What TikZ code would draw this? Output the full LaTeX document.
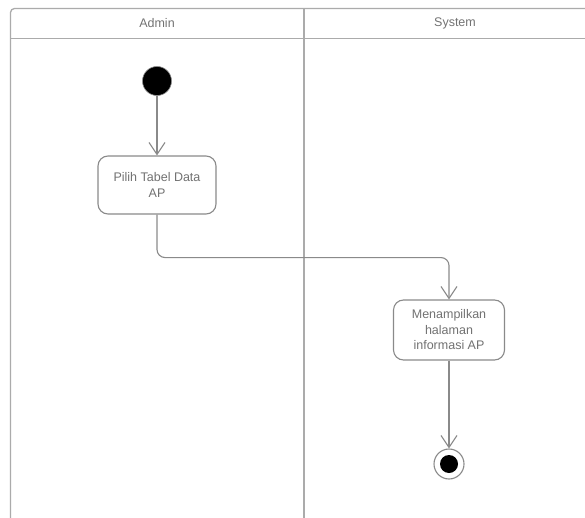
\documentclass[tikz,border=0pt]{standalone}
\usepackage{fontspec}
\setmainfont{Liberation Sans}
\usetikzlibrary{arrows.meta}

\definecolor{lanegray}{HTML}{ABABAB}
\definecolor{linegray}{HTML}{8A8A8A}
\definecolor{textgray}{HTML}{727272}

\tikzset{
  lane/.style={draw=lanegray, line width=1.3pt},
  lanetitle/.style={font=\fontsize{12.5}{15}\selectfont, text=textgray},
  activity/.style={draw=linegray, line width=1.1pt, rounded corners=10pt, fill=white,
    align=center, font=\fontsize{12.5}{15.5}\selectfont, text=textgray, inner sep=2pt},
  initial/.style={circle, fill=black, draw=linegray, line width=0.6pt, minimum size=29pt, inner sep=0pt},
  finalring/.style={circle, draw=linegray, line width=1.1pt, fill=white, minimum size=30pt, inner sep=0pt},
  finaldot/.style={circle, fill=black, minimum size=18pt, inner sep=0pt},
  flow/.style={draw=linegray, line width=1.1pt, rounded corners=8pt,
    -{Straight Barb[length=12pt, width=16pt, line width=1.1pt]}},
}

\begin{document}
\begin{tikzpicture}[x=1pt, y=-1pt]
\useasboundingbox (0,0) rectangle (585,518);

% swimlane frame
\begin{scope}
  \clip (0,0) rectangle (585,518);
  \draw[lane, rounded corners=4pt] (10.5,530) -- (10.5,8.5) -- (620,8.5);
  \draw[lane] (10.5,38.5) -- (620,38.5);
  \draw[lane] (304,8.5) -- (304,530);
\end{scope}

\node[lanetitle] (admin) at (157,23) {Admin};
\node[lanetitle] (system) at (455,23) {System};

% activity nodes
\node[initial] (start) at (157,81) {};
\node[activity, minimum width=118pt, minimum height=58pt] (pilih) at (157,185) {Pilih Tabel Data\\AP};
\node[activity, minimum width=111pt, minimum height=60pt] (tampil) at (449,330) {Menampilkan\\halaman\\informasi AP};
\node[finalring] (end) at (449,464) {};
\node[finaldot] (enddot) at (end.center) {};

% control flows
\draw[flow] (start) -- (pilih);
\draw[flow] (pilih.south) -- ++(0,43) -| (tampil.north);
\draw[flow] (tampil.south) -- (end.north);
\end{tikzpicture}
\end{document}
